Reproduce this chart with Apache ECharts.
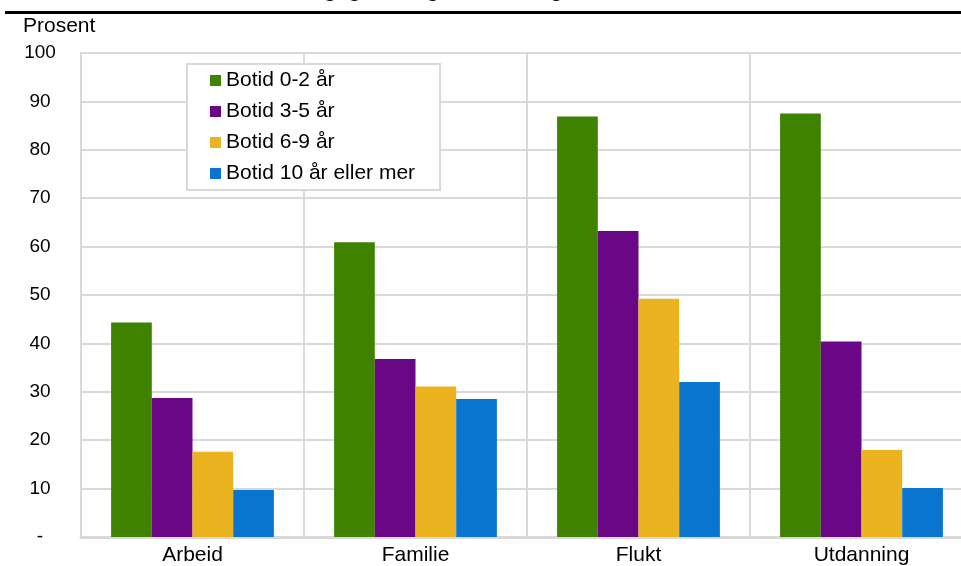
<!DOCTYPE html>
<html>
<head>
<meta charset="utf-8">
<script src="https://cdn.jsdelivr.net/npm/echarts@6/dist/echarts.min.js"></script>
<style>
html,body{margin:0;padding:0;background:#fff;}
#chart{width:961px;height:566px;}
</style>
</head>
<body>
<div id="chart"></div>
<script>
const categories = ["Arbeid", "Familie", "Flukt", "Utdanning"];
const seriesNames = ["Botid 0-2 år", "Botid 3-5 år", "Botid 6-9 år", "Botid 10 år eller mer"];
const botid02 = [44.3, 60.9, 86.9, 87.5];
const botid35 = [28.7, 36.8, 63.2, 40.4];
const botid69 = [17.6, 31.1, 49.2, 18.0];
const botid10 = [9.7, 28.5, 32.0, 10.1];
const yTicks = [0, 10, 20, 30, 40, 50, 60, 70, 80, 90, 100];
const titleText = "etter innvandringsgrunn og botid i Norge. 2014";
const yAxisTitle = "Prosent";

const colors = ["#3f8200", "#690786", "#ecb320", "#0a75cf"];
const values = [botid02, botid35, botid69, botid10];
const font = "Arial, 'Liberation Sans', sans-serif";

const chart = echarts.init(document.getElementById('chart'), null, {renderer: 'canvas'});
chart.setOption({
  animation: false,
  backgroundColor: '#fff',
  textStyle: {fontFamily: font},
  grid: {left: 81, right: -12, top: 53, bottom: 29, containLabel: false, outerBoundsMode: 'none'},
  legend: {
    orient: 'vertical',
    left: 187, top: 64,
    padding: [6, 25, 6, 23],
    itemGap: 10,
    itemWidth: 11, itemHeight: 11,
    icon: 'rect',
    borderColor: '#d9d9d9', borderWidth: 2,
    backgroundColor: '#fff',
    textStyle: {fontSize: 21, color: '#000', fontFamily: font, lineHeight: 21, padding: [0, 0, 0, 0]},
    data: seriesNames
  },
  xAxis: {
    type: 'category',
    data: categories,
    boundaryGap: true,
    axisLine: {show: true, lineStyle: {color: '#d9d9d9', width: 3}},
    axisTick: {show: false},
    axisLabel: {fontSize: 21, color: '#000', margin: 8, fontFamily: font},
    splitLine: {show: true, lineStyle: {color: '#d9d9d9', width: 2}}
  },
  yAxis: {
    type: 'value',
    min: yTicks[0], max: yTicks[yTicks.length - 1], interval: 10,
    axisLine: {show: true, lineStyle: {color: '#d9d9d9', width: 2}},
    axisTick: {show: false},
    axisLabel: {
      fontSize: 19, color: '#000', margin: 41, align: 'center', fontFamily: font,
      formatter: v => v === 0 ? '-' : String(v)
    },
    splitLine: {show: true, lineStyle: {color: '#d9d9d9', width: 2}}
  },
  series: seriesNames.map((name, i) => ({
    name: name,
    type: 'bar',
    data: values[i],
    barGap: '0%',
    barCategoryGap: '27%',
    itemStyle: {color: colors[i]}
  })),
  graphic: [
    {type: 'line', shape: {x1: 5, y1: 12.5, x2: 961, y2: 12.5}, style: {stroke: '#000', lineWidth: 3}},
    {type: 'text', x: 633, y: -9, style: {text: titleText, font: 'bold 21px ' + font, fill: '#000', textAlign: 'right', textVerticalAlign: 'middle'}},
    {type: 'text', x: 23, y: 26, style: {text: yAxisTitle, font: '21px ' + font, fill: '#000', textAlign: 'left', textVerticalAlign: 'middle'}}
  ]
});
</script>
</body>
</html>
